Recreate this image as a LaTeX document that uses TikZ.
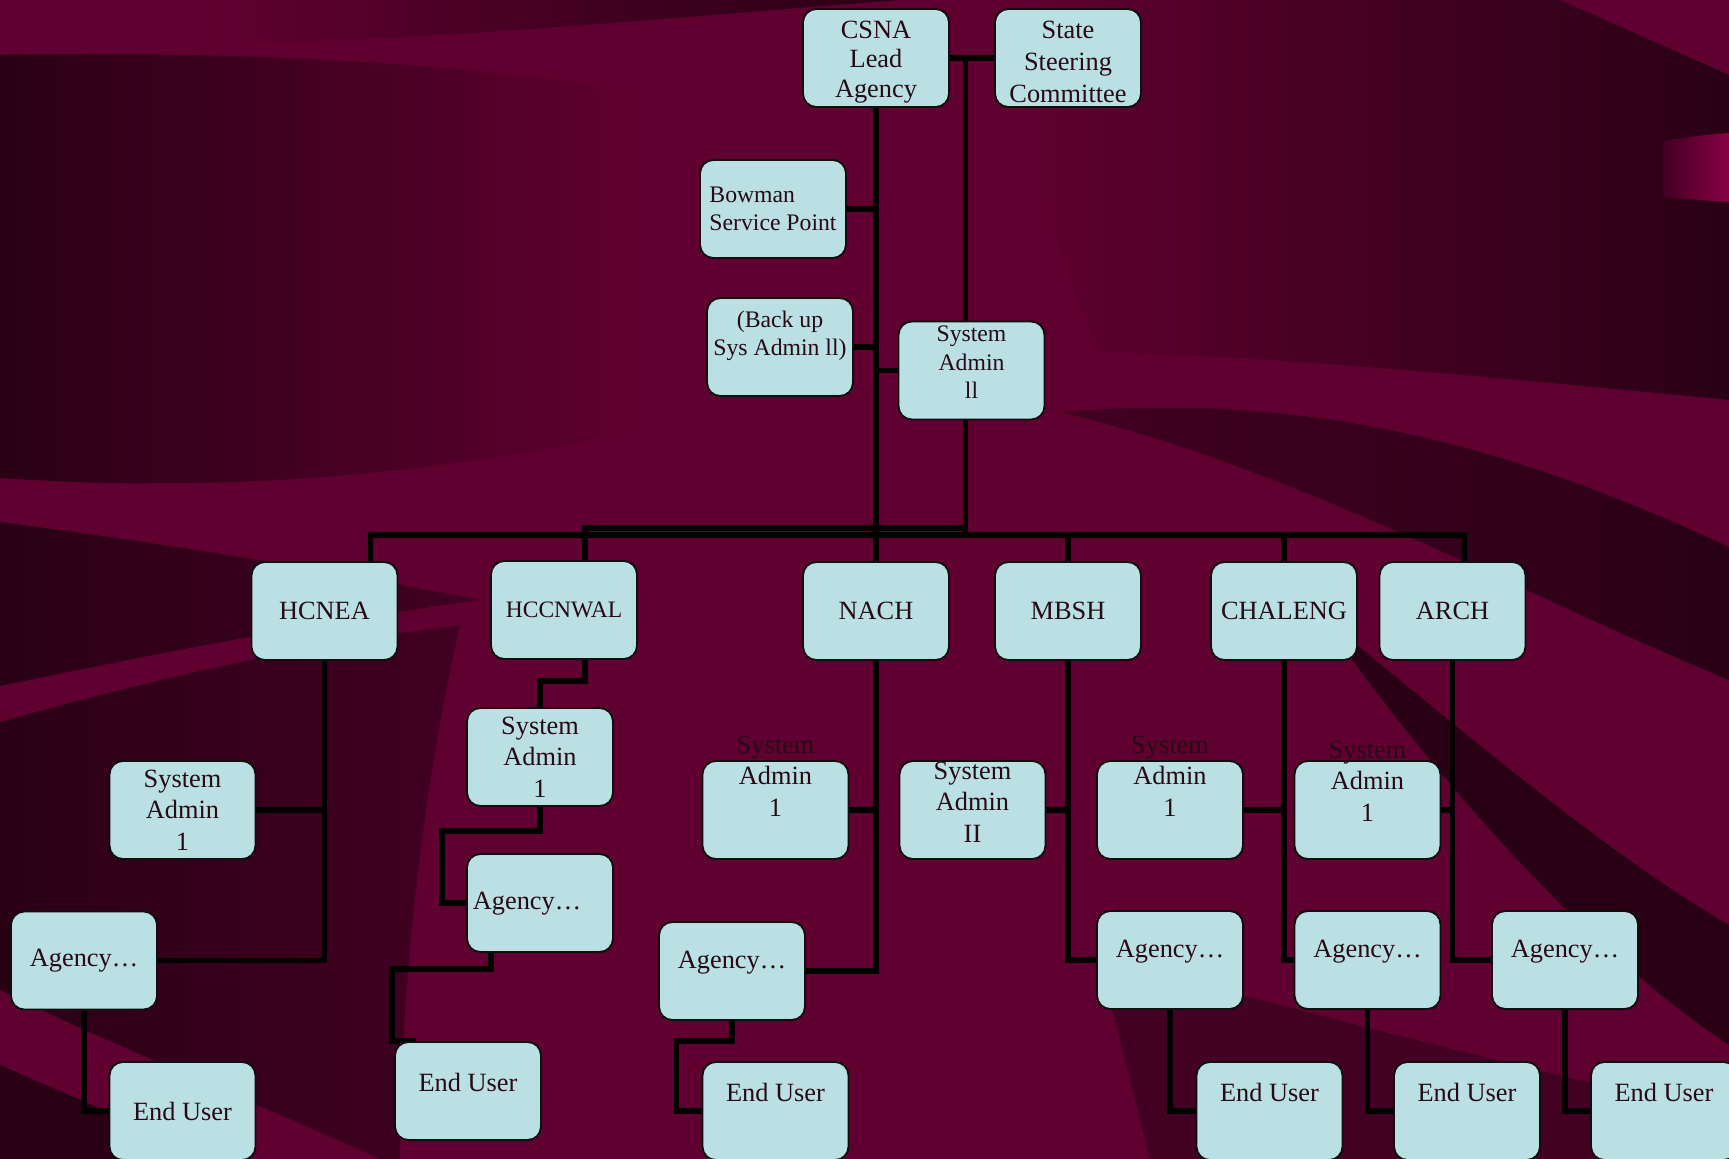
\documentclass[tikz,border=0pt]{standalone}
\usepackage{fontspec}
\setmainfont{Liberation Serif}
\usetikzlibrary{calc}
\pgfdeclarelayer{bg}
\pgfdeclarelayer{wires}
\pgfsetlayers{bg,wires,main}

\definecolor{wine}{RGB}{96,0,48}
\definecolor{wineDark}{RGB}{42,0,21}
\definecolor{wineMid}{RGB}{66,0,34}
\definecolor{wineGlow}{RGB}{162,0,82}
\definecolor{boxfill}{RGB}{186,224,227}
\definecolor{boxline}{RGB}{18,14,16}
\definecolor{ink}{RGB}{38,10,22}

\tikzset{
  orgbox/.style={draw=boxline, line width=1.1pt, fill=boxfill, rounded corners=7.5pt,
    minimum width=2.92cm, minimum height=1.96cm, inner sep=0pt},
  tag/.style={text=ink, align=center, inner sep=0pt, font=\fontsize{15}{17.8}\selectfont},
  smalltag/.style={tag, font=\fontsize{13.5}{16.3}\selectfont},
  conn/.style={draw=black, line width=3.2pt}
}

\begin{document}
\begin{tikzpicture}[x=0.02cm, y=-0.02cm]
  \useasboundingbox (0,0) rectangle (1729,1159);

  % background waves
  \begin{pgfonlayer}{bg}
    \fill[wine] (0,0) rectangle (1729,1159);
    \shade[left color=wine, right color=wineDark] (200,0) -- (900,0) .. controls (700,15) and (450,40) .. (200,45) -- cycle;
    \shade[left color=wineDark, right color=wine] (0,55) .. controls (250,50) and (500,65) .. (650,95) -- (650,430) .. controls (450,470) and (250,495) .. (0,478) -- cycle;
    \shade[left color=wineDark, right color=wineMid] (0,522) .. controls (200,548) and (350,575) .. (480,600) .. controls (300,625) and (150,655) .. (0,686) -- cycle;
    \shade[left color=wineDark, right color=wineMid] (0,722) .. controls (150,680) and (300,645) .. (460,625) .. controls (420,800) and (400,1000) .. (400,1159) -- (380,1159) .. controls (250,1100) and (100,1040) .. (0,990) -- cycle;
    \fill[wineDark] (0,1065) .. controls (80,1100) and (160,1135) .. (230,1159) -- (0,1159) -- cycle;
    \shade[left color=wine, right color=wineDark] (1000,0) -- (1560,0) -- (1729,75) -- (1729,400) .. controls (1500,378) and (1300,358) .. (1100,352) .. controls (1050,250) and (1020,100) .. (1000,0) -- cycle;
    \shade[left color=wineMid, middle color=wineGlow, right color=wineGlow!85!black] (1663,141) .. controls (1690,137) and (1710,134) .. (1729,133) -- (1729,202) .. controls (1710,201) and (1690,199) .. (1663,197) -- cycle;
    \shade[left color=wineMid, right color=wineDark] (1060,412) .. controls (1300,392) and (1500,440) .. (1729,547) -- (1729,680) .. controls (1500,585) and (1300,470) .. (1060,412) -- cycle;
    \fill[wineDark] (1320,615) .. controls (1450,720) and (1600,850) .. (1729,925) -- (1729,1045) .. controls (1600,960) and (1450,800) .. (1320,615) -- cycle;
    \fill[wineMid] (1100,960) .. controls (1350,1020) and (1550,1080) .. (1729,1110) -- (1729,1159) -- (1150,1159) -- cycle;
  \end{pgfonlayer}

  % lead level
  \node[orgbox] (csna) at (876,58) {};
  \node[tag, font=\fontsize{15}{17}\selectfont] (csna-t) at ($(csna)+(0,4)$) {CSNA\\Lead\\Agency};
  \node[orgbox] (state) at (1068,58) {};
  \node[tag, font=\fontsize{15}{18.1}\selectfont] (state-t) at ($(state)+(0,4)$) {State\\Steering\\Committee};
  \node[orgbox, smalltag, align=left] (bow) at (773,209) {Bowman\\Service Point};
  \node[orgbox] (bup) at (780,347) {};
  \node[smalltag] (bup-t) at ($(bup)+(0,-11)$) {(Back up\\Sys Admin ll)};
  \node[orgbox] (sa2) at (971.5,370.5) {};
  \node[smalltag] (sa2-t) at ($(sa2)+(0,-8)$) {System\\Admin\\ll};

  % agencies
  \node[orgbox, tag] (hcnea) at (324.5,611) {HCNEA};
  \node[orgbox, tag, font=\fontsize{13.4}{16}\selectfont] (hccnwal) at (564,610) {HCCNWAL};
  \node[orgbox, tag] (nach) at (876,611) {NACH};
  \node[orgbox, tag] (mbsh) at (1068,611) {MBSH};
  \node[orgbox, tag] (chaleng) at (1284,611) {CHALENG};
  \node[orgbox, tag] (arch) at (1452.5,611) {ARCH};

  % HCNEA
  \node[orgbox, tag] (hcsa) at (182.5,810) {System\\Admin\\1};
  \node[orgbox, tag] (hcag) at (84,960.5) {Agency…};
  \node[orgbox, tag] (hceu) at (182.5,1111) {End User};

  % HCCNWAL
  \node[orgbox, tag] (hwsa) at (540,757) {System\\Admin\\1};
  \node[orgbox] (hwag) at (540,903) {};
  \node[tag] (hwag-t) at ($(hwag)+(-13,1)$) {Agency…};
  \node[orgbox] (hweu) at (468,1091) {};
  \node[tag] (hweu-t) at ($(hweu)+(0,-9)$) {End User};

  % NACH
  \node[orgbox] (nasa) at (775.5,810) {};
  \node[tag] (nasa-t) at ($(nasa)+(0,-34)$) {System\\Admin\\1};
  \node[orgbox] (naag) at (732,971) {};
  \node[tag] (naag-t) at ($(naag)+(0,-8)$) {Agency…};
  \node[orgbox] (naeu) at (775.5,1111) {};
  \node[tag] (naeu-t) at ($(naeu)+(0,-19)$) {End User};

  % MBSH
  \node[orgbox] (mbsa) at (972.5,810) {};
  \node[tag] (mbsa-t) at ($(mbsa)+(0,-8)$) {System\\Admin\\II};
  \node[orgbox] (mbag) at (1170,960) {};
  \node[tag] (mbag-t) at ($(mbag)+(0,-8)$) {Agency…};
  \node[orgbox] (mbeu) at (1269.5,1111) {};
  \node[tag] (mbeu-t) at ($(mbeu)+(0,-19)$) {End User};

  % CHALENG
  \node[orgbox] (chsa) at (1170,810) {};
  \node[tag] (chsa-t) at ($(chsa)+(0,-34)$) {System\\Admin\\1};
  \node[orgbox] (chag) at (1367.5,960) {};
  \node[tag] (chag-t) at ($(chag)+(0,-8)$) {Agency…};
  \node[orgbox] (cheu) at (1467,1111) {};
  \node[tag] (cheu-t) at ($(cheu)+(0,-19)$) {End User};

  % ARCH
  \node[orgbox] (arsa) at (1367.5,810) {};
  \node[tag] (arsa-t) at ($(arsa)+(0,-29)$) {System\\Admin\\1};
  \node[orgbox] (arag) at (1565,960) {};
  \node[tag] (arag-t) at ($(arag)+(0,-8)$) {Agency…};
  \node[orgbox] (areu) at (1664,1111) {};
  \node[tag] (areu-t) at ($(areu)+(0,-19)$) {End User};

  % connectors
  \coordinate (busA) at (0,528);
  \coordinate (busB) at (0,535);
  \coordinate (ssj) at ($(csna.east)!.35!(state.west)$);
  \coordinate (d1) at ($(hcnea.north)+(46,0)$);
  \coordinate (d2) at ($(hccnwal.north)+(21,0)$);
  \coordinate (d6) at ($(arch.north)+(12,0)$);
  \begin{pgfonlayer}{wires}
    \draw[conn] (csna.south) -- (nach.north);
    \draw[conn] (bow.east) -- (bow.east -| csna.south);
    \draw[conn] (bup.east) -- (bup.east -| csna.south);
    \draw[conn] (sa2.west -| csna.south) -- (sa2.west);
    \draw[conn] (csna.east) -- (state.west);
    \draw[conn] (ssj) -- (ssj |- sa2.north);
    \draw[conn] (ssj |- sa2.south) -- (ssj |- busB);
    \draw[conn] (d2) |- (ssj |- busA);
    \draw[conn] (d1) |- (d6 |- busB) -- (d6);
    \draw[conn] (mbsh.north) -- (mbsh.north |- busB);
    \draw[conn] (chaleng.north) -- (chaleng.north |- busB);

    \draw[conn] (hcnea.south) |- (hcag.east);
    \draw[conn] (hcsa.east) -- (hcsa.east -| hcnea.south);
    \draw[conn] (hcag.south) |- (hceu.west);

    \draw[conn] (d2 |- hccnwal.south) |- ($(hwsa.north)+(0,-26)$) -- (hwsa.north);
    \draw[conn] (hwsa.south) -- ++(0,24) -| ($(hwag.west)+(-24,0)$) -- (hwag.west);
    \draw[conn] ($(hwag.south)+(-49,0)$) -- ++(0,16) -| ($(hweu.north west)+(-2,0)$) -- ++(24,0);

    \draw[conn] (nach.south) |- (naag.east);
    \draw[conn] (nasa.east) -- (nasa.east -| nach.south);
    \draw[conn] (naag.south) -- ++(0,20) -| ($(naeu.west)+(-25,0)$) -- (naeu.west);

    \draw[conn] (mbsh.south) |- (mbag.west);
    \draw[conn] (mbsa.east) -- (mbsa.east -| mbsh.south);
    \draw[conn] (mbag.south) |- (mbeu.west);

    \draw[conn] (chaleng.south) |- (chag.west);
    \draw[conn] (chsa.east) -- (chsa.east -| chaleng.south);
    \draw[conn] (chag.south) |- (cheu.west);

    \draw[conn] (arch.south) |- (arag.west);
    \draw[conn] (arsa.east) -- (arsa.east -| arch.south);
    \draw[conn] (arag.south) |- (areu.west);
  \end{pgfonlayer}
\end{tikzpicture}
\end{document}
